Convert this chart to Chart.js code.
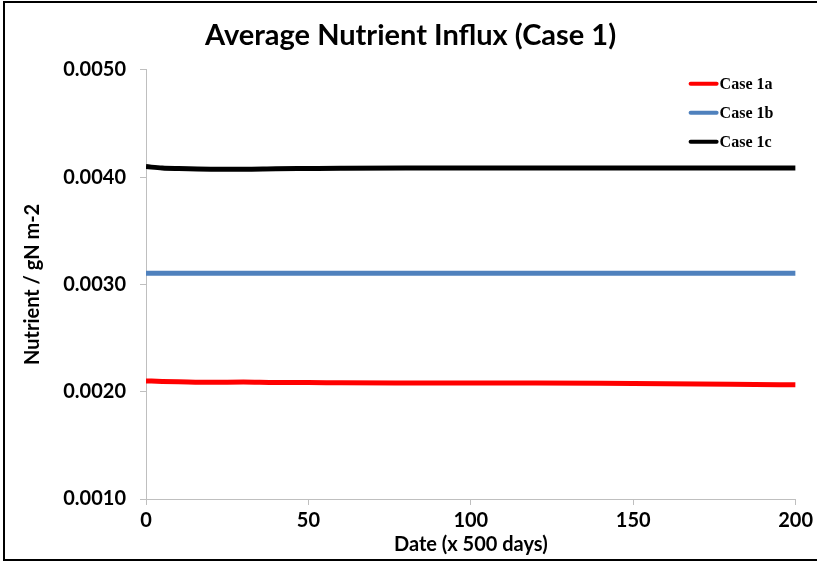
<!DOCTYPE html>
<html>
<head>
<meta charset="utf-8">
<script src="https://cdn.jsdelivr.net/npm/chart.js@4.4.0/dist/chart.umd.min.js"></script>
<style>
  html, body { margin: 0; padding: 0; background: #fff; }
  canvas { display: block; }
</style>
</head>
<body>
<canvas id="influx" width="817" height="562"></canvas>
<script>
// Вхідні дані
const days = [0, 5, 10, 20, 30, 40, 50, 60, 80, 100, 120, 140, 160, 180, 200];
const case1a = [0.002100, 0.002096, 0.002093, 0.002088, 0.002090, 0.002085, 0.002086, 0.002083,
  0.002082, 0.002081, 0.002080, 0.002078, 0.002075, 0.002070, 0.002064];
const case1b = [0.003105, 0.003105, 0.003105, 0.003105, 0.003105, 0.003105, 0.003105, 0.003105,
  0.003105, 0.003105, 0.003105, 0.003105, 0.003105, 0.003105, 0.003105];
const case1c = [0.004098, 0.004084, 0.004079, 0.004074, 0.004074, 0.004078, 0.004080, 0.004082,
  0.004084, 0.004084, 0.004084, 0.004084, 0.004084, 0.004084, 0.004084];
const seriesNames = ['Case 1a', 'Case 1b', 'Case 1c'];
const seriesColors = ['#ff0000', '#4f81bd', '#000000'];

const yTicks = [0.0010, 0.0020, 0.0030, 0.0040, 0.0050];
const xTicks = [0, 50, 100, 150, 200];

function toPoints(values) {
  return days.map((d, i) => ({ x: d, y: values[i] }));
}

// рамка навколо всього малюнка
const framePlugin = {
  id: 'frame',
  afterDraw(chart) {
    const ctx = chart.ctx;
    ctx.save();
    ctx.strokeStyle = '#000';
    ctx.lineWidth = 2;
    ctx.strokeRect(4, 2, 830, 558);
    ctx.restore();
  },
};

// легенда всередині області графіка
const insideLegend = {
  id: 'insideLegend',
  afterDatasetsDraw(chart) {
    const ctx = chart.ctx;
    const area = chart.chartArea;
    const x0 = area.right - 105;
    ctx.save();
    ctx.font = 'bold 16px "Liberation Serif", "Times New Roman", serif';
    ctx.textBaseline = 'middle';
    chart.data.datasets.forEach((ds, i) => {
      const y = area.top + 14 + i * 29;
      ctx.strokeStyle = ds.borderColor;
      ctx.lineWidth = 4;
      ctx.lineCap = 'round';
      ctx.beginPath();
      ctx.moveTo(x0, y);
      ctx.lineTo(x0 + 26, y);
      ctx.stroke();
      ctx.fillStyle = '#000';
      ctx.fillText(ds.label, x0 + 29, y + 1);
    });
    ctx.restore();
  },
};

const tickFont = { family: 'Lato, "Open Sans", sans-serif', size: 20, weight: 'bold' };
const axisTitleFont = { family: 'Lato, "Open Sans", sans-serif', size: 20, weight: 'bold' };

new Chart(document.getElementById('influx').getContext('2d'), {
  type: 'line',
  data: {
    datasets: [case1a, case1b, case1c].map((vals, i) => ({
      label: seriesNames[i],
      data: toPoints(vals),
      borderColor: seriesColors[i],
      backgroundColor: seriesColors[i],
      borderWidth: 5,
      pointRadius: 0,
      cubicInterpolationMode: 'monotone',
      fill: false,
    })),
  },
  options: {
    responsive: false,
    animation: false,
    layout: { padding: { left: 6, right: 16, top: 0, bottom: 4 } },
    plugins: {
      legend: { display: false },
      tooltip: { enabled: false },
      title: {
        display: true,
        text: '  Average Nutrient Influx (Case 1)',
        color: '#000',
        font: { family: 'Lato, "Open Sans", sans-serif', size: 29, weight: 'bold', lineHeight: 1.2 },
        padding: { top: 18, bottom: 17 },
      },
    },
    scales: {
      x: {
        type: 'linear',
        min: 0,
        max: 200,
        afterBuildTicks(scale) {
          scale.ticks = xTicks.map((v) => ({ value: v }));
        },
        afterFit(scale) {
          scale.height = 59;
        },
        ticks: { color: '#000', font: tickFont, padding: 4, maxRotation: 0 },
        grid: { drawOnChartArea: false, color: '#bfbfbf', tickLength: 6 },
        border: { color: '#bfbfbf', width: 1 },
        title: {
          display: true,
          text: 'Date (x 500 days)',
          color: '#000',
          font: axisTitleFont,
          padding: { top: 0, bottom: 1 },
        },
      },
      y: {
        min: 0.001,
        max: 0.005,
        afterBuildTicks(scale) {
          scale.ticks = yTicks.map((v) => ({ value: v }));
        },
        afterFit(scale) {
          scale.width = 140;
        },
        ticks: {
          color: '#000',
          font: tickFont,
          padding: 14,
          callback: (v) => Number(v).toFixed(4),
        },
        grid: { drawOnChartArea: false, color: '#bfbfbf', tickLength: 6 },
        border: { color: '#bfbfbf', width: 1 },
        title: {
          display: true,
          text: 'Nutrient / gN m-2',
          color: '#000',
          font: axisTitleFont,
          padding: { top: 15, bottom: 0 },
        },
      },
    },
  },
  plugins: [framePlugin, insideLegend],
});
</script>
</body>
</html>
